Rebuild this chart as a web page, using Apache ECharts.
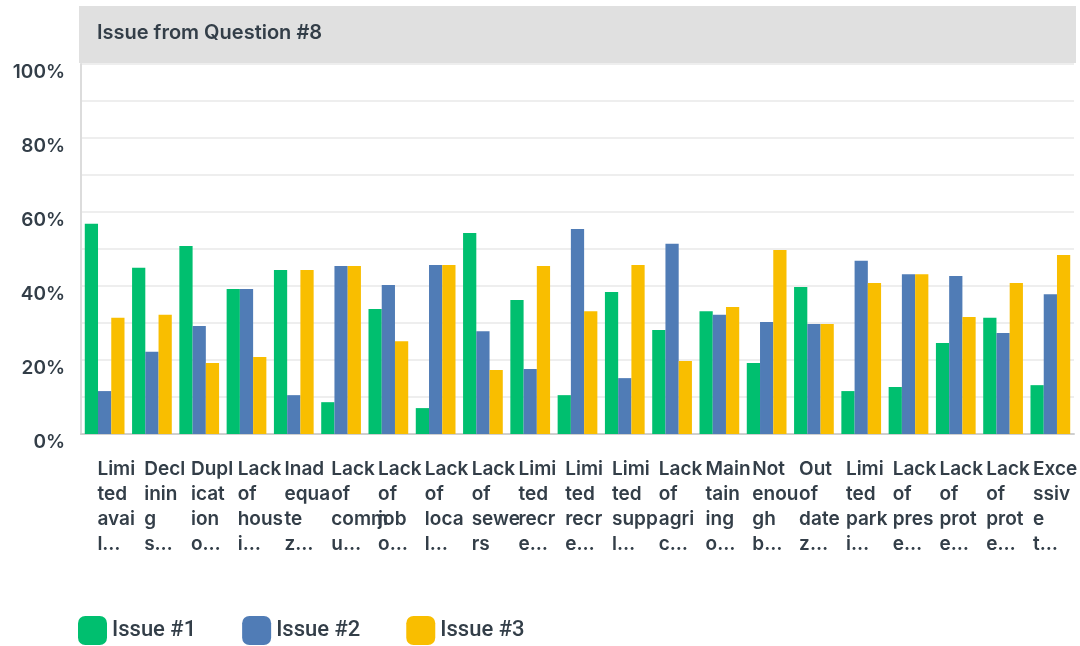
<html>
<head>
<meta charset="UTF-8">
<script src="https://cdn.jsdelivr.net/npm/echarts@6/dist/echarts.min.js"></script>
<title>Issue from Question #8</title>
</head>
<body style="margin:0">
	<div id="main" style="width: 1080px; height: 646px;"></div>
</body>
<script type="text/javascript">
	// labels as shown (wrapped and cut in the original)
	var categories = [ 'Limi\nted\navai\nl…', 'Decl\ninin\ng\ns…', 'Dupl\nicat\nion\no…',
			'Lack\nof\nhous\ni…', 'Inad\nequa\nte\nz…', 'Lack\nof\ncomm\nu…',
			'Lack\nof\njob\no…', 'Lack\nof\nloca\nl…', 'Lack\nof\nsewe\nrs',
			'Limi\nted\nrecr\ne…', 'Limi\nted\nrecr\ne…', 'Limi\nted\nsupp\nl…',
			'Lack\nof\nagri\nc…', 'Main\ntain\ning\no…', 'Not\nenou\ngh\nb…',
			'Out\nof\ndate\nz…', 'Limi\nted\npark\ni…', 'Lack\nof\npres\ne…',
			'Lack\nof\nprot\ne…', 'Lack\nof\nprot\ne…', 'Exce\nssiv\ne\nt…' ];
	var issue1 = [ 56.8, 44.9, 50.8, 39.2, 44.3, 8.6, 33.8, 7.0, 54.3, 36.2, 10.5,
			38.4, 28.1, 33.2, 19.2, 39.7, 11.6, 12.7, 24.6, 31.4, 13.2 ];
	var issue2 = [ 11.6, 22.2, 29.2, 39.2, 10.5, 45.4, 40.3, 45.7, 27.8, 17.6, 55.4,
			15.1, 51.4, 32.2, 30.3, 29.7, 46.8, 43.2, 42.7, 27.3, 37.8 ];
	var issue3 = [ 31.4, 32.2, 19.2, 20.8, 44.3, 45.4, 25.1, 45.7, 17.3, 45.4, 33.2,
			45.7, 19.7, 34.3, 49.7, 29.7, 40.8, 43.2, 31.6, 40.8, 48.4 ];
	var seriesNames = [ 'Issue #1', 'Issue #2', 'Issue #3' ];
	var colors = [ '#00bf6f', '#507cb6', '#f9be00' ];

	var textColor = '#333e48';
	var font = 'Inter';

	var myChart = echarts.init(document.getElementById('main'));
	var option = {
		color : colors,
		animation : false,
		graphic : [ {
			type : 'rect',
			shape : { x : 79, y : 6, width : 997, height : 57 },
			style : { fill : '#e0e0e0' },
			z : -1
		} ],
		title : {
			text : 'Issue from Question #8',
			left : 92,
			top : 18,
			textStyle : {
				fontFamily : font,
				fontSize : 20,
				fontWeight : 600,
				color : textColor
			}
		},
		legend : {
			left : 73,
			top : 611,
			icon : 'roundRect',
			itemWidth : 29,
			itemHeight : 29,
			itemGap : 46,
			data : seriesNames,
			textStyle : {
				fontFamily : 'Roboto',
				fontSize : 22,
				fontWeight : 500,
				color : textColor
			}
		},
		grid : [ {
			left : 81,
			right : 6,
			top : 64,
			bottom : 212
		}, {
			left : 74,
			right : 13,
			top : 64,
			bottom : 212
		} ],
		xAxis : [ {
			type : 'category',
			gridIndex : 0,
			data : categories,
			axisLine : { lineStyle : { color : '#cfcfcf', width : 2 } },
			axisTick : { show : false },
			axisLabel : { show : false }
		}, {
			type : 'category',
			gridIndex : 1,
			data : categories,
			axisLine : { show : false },
			axisTick : { show : false },
			axisLabel : {
				interval : 0,
				align : 'left',
				margin : 23,
				lineHeight : 25,
				fontFamily : font,
				fontSize : 19,
				fontWeight : 600,
				color : textColor
			}
		} ],
		yAxis : [ {
			type : 'value',
			gridIndex : 0,
			min : 0,
			max : 100,
			interval : 10,
			axisLine : { show : true, lineStyle : { color : '#dcdcdc', width : 2 } },
			axisTick : { show : false },
			splitLine : { lineStyle : { color : '#eeeeee', width : 2 } },
			axisLabel : {
				margin : 16,
				verticalAlign : 'top',
				lineHeight : 16,
				fontFamily : font,
				fontSize : 19,
				fontWeight : 600,
				color : textColor,
				formatter : function(v) {
					return v % 20 === 0 ? v + '%' : '';
				}
			}
		}, {
			type : 'value',
			gridIndex : 1,
			show : false
		} ],
		series : [ {
			name : seriesNames[0],
			type : 'bar',
			data : issue1,
			barGap : '0%',
			barCategoryGap : '16%'
		}, {
			name : seriesNames[1],
			type : 'bar',
			data : issue2
		}, {
			name : seriesNames[2],
			type : 'bar',
			data : issue3
		} ]
	};
	myChart.setOption(option);
</script>
</html>
